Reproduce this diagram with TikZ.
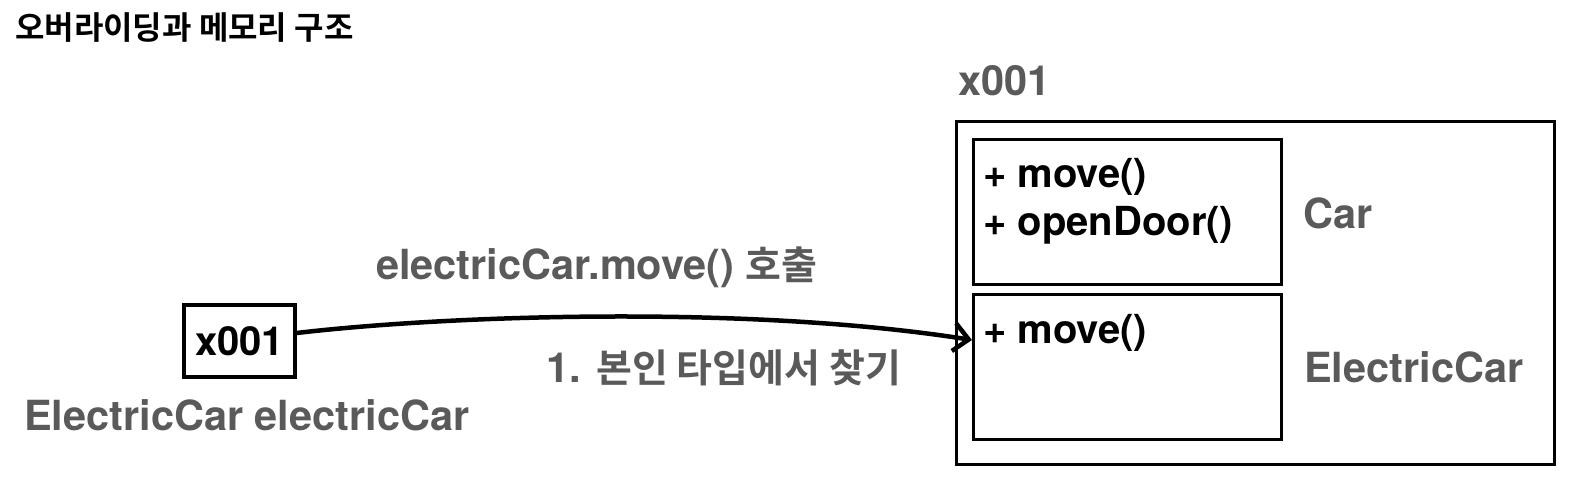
\documentclass[tikz,border=0pt]{standalone}
\usepackage{fontspec}
\setmainfont{TeX Gyre Heros}
\newfontfamily\krfont{Noto Sans CJK KR}[BoldFont={Noto Sans CJK KR Bold}]
\usetikzlibrary{arrows.meta}
\definecolor{textgray}{RGB}{90,90,90}
\newcommand{\hangul}[1]{{\krfont\fontsize{39}{46}\selectfont #1}}

\begin{document}
\begin{tikzpicture}[x=1pt, y=-1pt, >={Straight Barb[length=15pt, width=28pt]},
    box/.style={draw, line width=3.2pt, inner sep=0pt},
    lbl/.style={font=\fontsize{41.5}{50}\selectfont\bfseries, text=textgray, inner sep=0pt, anchor=base west},
    member/.style={lbl, font=\fontsize{40}{48}\selectfont\bfseries, text=black}]
    \useasboundingbox (0,0) rectangle (1586,484);

    % Title
    \node[anchor=base west, inner sep=0pt, font=\krfont\bfseries\fontsize{32}{38}\selectfont] (title) at (15,40) {오버라이딩과 메모리 구조};

    % Reference variable
    \node[box, minimum width=111pt, minimum height=72pt, font=\fontsize{40}{48}\selectfont\bfseries] (ref) at (239.5,341) {x001};
    \node[lbl] (reftype) at (24,430) {ElectricCar electricCar};

    % Instance in memory
    \node[lbl] (addr) at (958,96) {x001};
    \node[box, anchor=north west, minimum width=598pt, minimum height=343pt] (heap) at (955,120) {};
    \node[box, anchor=north west, minimum width=308pt, minimum height=145pt] (carbox) at (972,138) {};
    \node[box, anchor=north west, minimum width=308pt, minimum height=145pt] (ecbox) at (972,293) {};

    % Members
    \node[member] (carmove) at (983,187) {+ move()};
    \node[member] (cardoor) at (983,235) {+ openDoor()};
    \node[member] (ecmove) at (983,343) {+ move()};

    % Type names
    \node[lbl] (carname) at (1303,228) {Car};
    \node[lbl] (ecname) at (1304,382) {ElectricCar};

    % Method call arrow
    \coordinate (hit) at (ecbox.west |- 0,340);
    \draw[->, line width=4.5pt] ([yshift=8pt]ref.east) .. controls (450,315) and (750,305) .. (hit);
    \node[lbl] (call) at (376,279) {electricCar.move() \hangul{호출}};
    \node[lbl] (step1) at (546,382) {1. \hangul{본인 타입에서 찾기}};
\end{tikzpicture}
\end{document}
